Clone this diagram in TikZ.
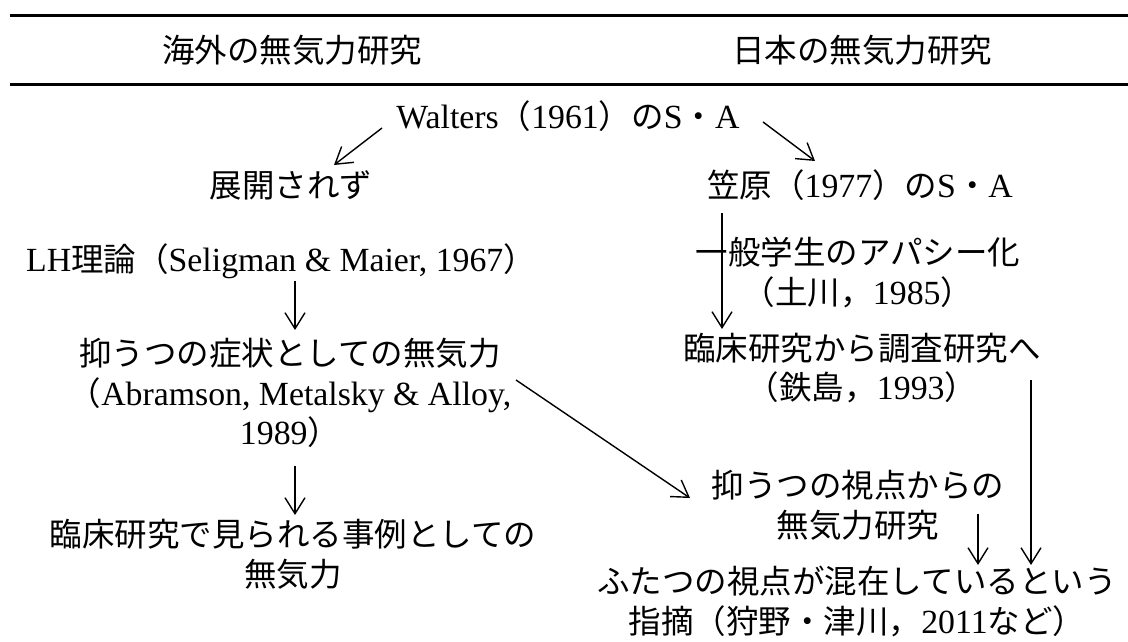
\documentclass[tikz,border=0pt]{standalone}
\usepackage{fontspec}
\setmainfont{Liberation Serif}[Scale=1.04]
\newfontfamily\jp{Noto Sans CJK JP}
\usetikzlibrary{arrows.meta}
\begin{document}
\begin{tikzpicture}[x=1pt,y=-1pt,
  txt/.style={inner sep=0pt, align=center, font=\fontsize{32.5}{39.5}\selectfont},
  arr/.style={line width=1.4pt, -{Straight Barb[length=16pt,width=20pt,line width=1.4pt]}},
  rulestyle/.style={line width=3pt}]
\useasboundingbox (0,0) rectangle (1128,642);
% rules
\coordinate (r1a) at (10,15.5);  \coordinate (r1b) at (1128,15.5);
\coordinate (r2a) at (10,84.5);  \coordinate (r2b) at (1128,84.5);
\draw[rulestyle] (r1a) -- (r1b);
\draw[rulestyle] (r2a) -- (r2b);
% headers
\node[txt] (hL) at (292,50) {\jp 海外の無気力研究};
\node[txt] (hR) at (862,50) {\jp 日本の無気力研究};
% nodes
\node[txt] (walt) at (568,116) {Walters{\jp（}1961{\jp）の}S{\jp ・}A};
\node[txt] (tenkai) at (291,185) {\jp 展開されず};
\node[txt] (kasa) at (860,185) {{\jp 笠原（}1977{\jp）の}S{\jp ・}A};
\node[txt] (lh) at (281,261) {LH{\jp 理論（}Seligman \& Maier, 1967{\jp）}};
\node[txt] (yoku) at (290,393) {{\jp 抑うつの症状としての無気力}\\{\jp（}Abramson, Metalsky \& Alloy,\\1989{\jp）}};
\node[txt] (rinsho) at (293,554.5) {{\jp 臨床研究で見られる事例としての}\\{\jp 無気力}};
\node[txt] (ippan) at (858,272.5) {{\jp 一般学生のアパシー化}\\{\jp（土川，}1985{\jp）}};
\node[txt] (rinchou) at (862,368) {{\jp 臨床研究から調査研究へ}\\{\jp（鉄島，}1993{\jp）}};
\node[txt] (yokushi) at (858,505.5) {{\jp 抑うつの視点からの}\\{\jp 無気力研究}};
\node[txt] (futatsu) at (857,601.5) {{\jp ふたつの視点が混在しているという}\\{\jp 指摘（狩野・津川，}2011{\jp など）}};
% connector end points
\coordinate (a1s) at (382,128); \coordinate (a1e) at (334,165);
\coordinate (a2s) at (763,122); \coordinate (a2e) at (815,161);
\coordinate (a3s) at (295,281); \coordinate (a3e) at (295,330);
\coordinate (a4s) at (722,213); \coordinate (a4e) at (722,329);
\coordinate (a5s) at (516,380); \coordinate (a5e) at (690,498);
\coordinate (a6s) at (295,466); \coordinate (a6e) at (295,515);
\coordinate (a7s) at (978,514); \coordinate (a7e) at (978,565);
\coordinate (a8s) at (1031,380); \coordinate (a8e) at (1031,565);
\draw[arr] (a1s) -- (a1e);
\draw[arr] (a2s) -- (a2e);
\draw[arr] (a3s) -- (a3e);
\draw[arr] (a4s) -- (a4e);
\draw[arr] (a5s) -- (a5e);
\draw[arr] (a6s) -- (a6e);
\draw[arr] (a7s) -- (a7e);
\draw[arr] (a8s) -- (a8e);
\end{tikzpicture}
\end{document}
